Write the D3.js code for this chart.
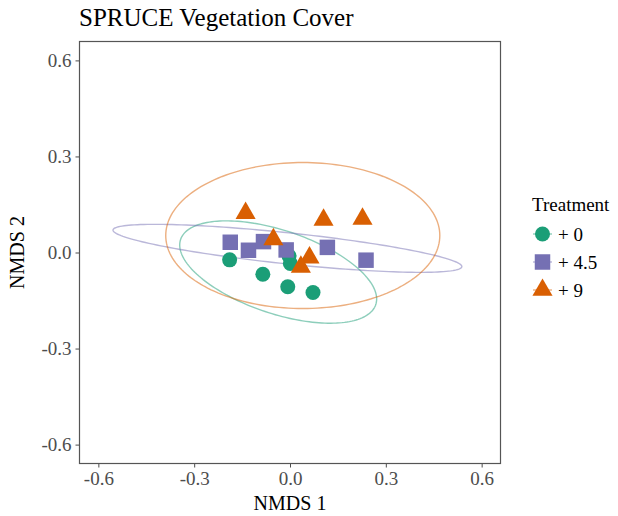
<!DOCTYPE html>
<html>
<head>
  <meta charset="utf-8">
  <title>SPRUCE Vegetation Cover</title>
  <script src="https://cdn.jsdelivr.net/npm/d3@7"></script>
  <style>
    body { margin: 0; background: #fff; }
    svg text { font-family: "Liberation Serif", "Times New Roman", serif !important; }
  </style>
</head>
<body>
<script>
  // treatments and colours (Dark2)
  var treatments = ["+ 0", "+ 4.5", "+ 9"];
  var colors = ["#1b9e77", "#7570b3", "#d95f02"];

  // NMDS scores
  var nmds1_t0 = [-0.189, -0.003, 0.001, -0.085, -0.007, 0.072];
  var nmds2_t0 = [-0.023, -0.011, -0.034, -0.068, -0.107, -0.125];
  var nmds1_t45 = [-0.187, -0.130, -0.083, -0.012, 0.117, 0.238];
  var nmds2_t45 = [0.032, 0.007, 0.034, 0.008, 0.016, -0.024];
  var nmds1_t9 = [-0.139, -0.052, 0.061, 0.034, 0.105, 0.227];
  var nmds2_t9 = [0.123, 0.041, -0.016, -0.045, 0.102, 0.105];

  // ellipse parameters per treatment: centre, semi axes, rotation (deg)
  var ellCx = [-0.037, -0.008, 0.040];
  var ellCy = [-0.061, 0.013, 0.053];
  var ellA = [0.322, 0.549, 0.429];
  var ellB = [0.130, 0.0485, 0.228];
  var ellAngle = [-18.4, -6, 0];

  var ticks = [-0.6, -0.3, 0.0, 0.3, 0.6];

  var width = 618, height = 516;
  var panelLeft = 79.5, panelTop = 41.5, panelW = 421, panelH = 422;
  var lim = 0.659;
  var serif = "'Liberation Serif', 'Times New Roman', serif";

  var x = d3.scaleLinear().domain([-lim, lim]).range([panelLeft, panelLeft + panelW]);
  var y = d3.scaleLinear().domain([-lim, lim]).range([panelTop + panelH, panelTop]);

  var svg = d3.select("body").append("svg")
    .attr("width", width)
    .attr("height", height)
    .style("font-family", serif);

  // title
  svg.append("text")
    .attr("x", 79)
    .attr("y", 26)
    .attr("font-size", "25px")
    .attr("fill", "#000")
    .text("SPRUCE Vegetation Cover");

  // axes
  var fmt = function(d) { return d3.format(".1f")(d).replace("\u2212", "-"); };
  var xAxis = d3.axisBottom(x).tickValues(ticks).tickSize(4).tickPadding(4).tickFormat(fmt);
  var yAxis = d3.axisLeft(y).tickValues(ticks).tickSize(4).tickPadding(4).tickFormat(fmt);

  var gx = svg.append("g")
    .attr("transform", "translate(0," + (panelTop + panelH) + ")")
    .call(xAxis);
  var gy = svg.append("g")
    .attr("transform", "translate(" + panelLeft + ",0)")
    .call(yAxis);

  [gx, gy].forEach(function(g) {
    g.attr("font-family", null).attr("font-size", null);
    g.select(".domain").remove();
    g.selectAll(".tick line").attr("stroke", "#4d4d4d").attr("stroke-width", 1);
    g.selectAll(".tick text")
      .attr("fill", "#4d4d4d")
      .style("font-family", serif)
      .style("font-size", "19px");
  });

  // panel border
  svg.append("rect")
    .attr("x", panelLeft)
    .attr("y", panelTop)
    .attr("width", panelW)
    .attr("height", panelH)
    .attr("fill", "none")
    .attr("stroke", "#555")
    .attr("stroke-width", 1.2);

  // axis titles
  svg.append("text")
    .attr("x", panelLeft + panelW / 2)
    .attr("y", 510)
    .attr("text-anchor", "middle")
    .attr("font-size", "20px")
    .text("NMDS 1");

  svg.append("text")
    .attr("transform", "translate(24," + (panelTop + panelH / 2) + ") rotate(-90)")
    .attr("text-anchor", "middle")
    .attr("font-size", "20px")
    .text("NMDS 2");

  // ellipses
  var line = d3.line()
    .x(function(d) { return x(d[0]); })
    .y(function(d) { return y(d[1]); })
    .curve(d3.curveLinearClosed);

  var plot = svg.append("g");

  treatments.forEach(function(t, i) {
    var th = ellAngle[i] * Math.PI / 180;
    var pts = d3.range(0, 2 * Math.PI, Math.PI / 90).map(function(u) {
      var ex = ellA[i] * Math.cos(u), ey = ellB[i] * Math.sin(u);
      return [ellCx[i] + ex * Math.cos(th) - ey * Math.sin(th),
              ellCy[i] + ex * Math.sin(th) + ey * Math.cos(th)];
    });
    plot.append("path")
      .attr("d", line(pts))
      .attr("fill", "none")
      .attr("stroke", colors[i])
      .attr("stroke-opacity", 0.5)
      .attr("stroke-width", 1.4);
  });

  // points
  var groups = [
    { xs: nmds1_t0, ys: nmds2_t0, shape: d3.symbolCircle, size: 177 },
    { xs: nmds1_t45, ys: nmds2_t45, shape: d3.symbolSquare, size: 240 },
    { xs: nmds1_t9, ys: nmds2_t9, shape: d3.symbolTriangle, size: 175 }
  ];

  groups.forEach(function(g, i) {
    plot.selectAll(".pt" + i)
      .data(d3.zip(g.xs, g.ys))
      .enter()
      .append("path")
      .attr("class", "pt" + i)
      .attr("d", d3.symbol().type(g.shape).size(g.size))
      .attr("transform", function(d) { return "translate(" + x(d[0]) + "," + y(d[1]) + ")"; })
      .attr("fill", colors[i]);
  });

  // legend
  var legend = svg.append("g");
  legend.append("text")
    .attr("x", 532)
    .attr("y", 211)
    .attr("font-size", "19px")
    .text("Treatment");

  var keyY = [234, 262, 290];
  groups.forEach(function(g, i) {
    legend.append("line")
      .attr("x1", 533).attr("x2", 552)
      .attr("y1", keyY[i]).attr("y2", keyY[i])
      .attr("stroke", colors[i])
      .attr("stroke-opacity", 0.5)
      .attr("stroke-width", 1.4);
    legend.append("path")
      .attr("d", d3.symbol().type(g.shape).size(g.size))
      .attr("transform", "translate(542.5," + keyY[i] + ")")
      .attr("fill", colors[i]);
    legend.append("text")
      .attr("x", 558)
      .attr("y", keyY[i])
      .attr("dy", "0.35em")
      .attr("font-size", "19px")
      .text(treatments[i]);
  });
</script>
</body>
</html>
